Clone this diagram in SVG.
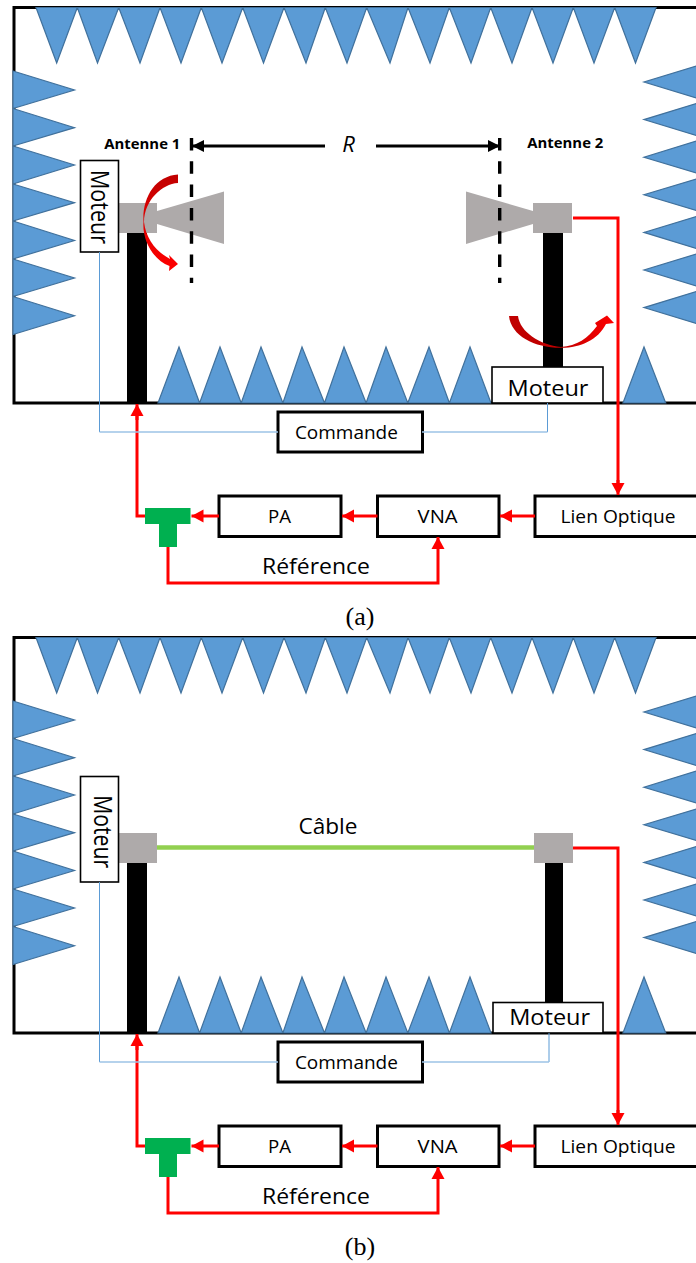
<svg xmlns="http://www.w3.org/2000/svg" width="696" height="1263" viewBox="0 0 696 1263">
<style>
.abs{fill:#5b9bd5;stroke:#41719c;stroke-width:1.2;stroke-linejoin:miter}
.frame{fill:none;stroke:#000;stroke-width:3}
.box{fill:#fff;stroke:#000;stroke-width:3}
.mot{fill:#fff;stroke:#000;stroke-width:1.6}
.gray{fill:#aeaaaa}
.pole{fill:#000}
.tee{fill:#00b050}
.red{fill:none;stroke:#f00;stroke-width:3;marker-end:url(#rh)}
.redp{fill:none;stroke:#f00;stroke-width:3}
.ctl{fill:none;stroke:#5b9bd5;stroke-width:1}
.ctlh{fill:none;stroke:#9dc3e6;stroke-width:1.3}
.dim{fill:none;stroke:#000;stroke-width:3;marker-end:url(#bh)}
.dash{fill:none;stroke:#000;stroke-width:3.4;stroke-dasharray:12.5 10.8}
text{font-family:"Open Sans","Noto Sans",sans-serif;fill:#000}
.t18{font-size:19px;text-anchor:middle}
.t20{font-size:22px;text-anchor:middle}
.tm{font-size:21px;text-anchor:middle}
.tv{font-size:25px;text-anchor:middle}
.ant{font-size:13.5px;font-weight:700}
.cap{font-family:"Liberation Serif",serif;font-size:26px;text-anchor:middle}
</style>
<defs>
<marker id="rh" markerUnits="userSpaceOnUse" markerWidth="14" markerHeight="14" refX="12" refY="7" orient="auto"><path d="M0 .5L12 7L0 13.5Z" fill="#f00"/></marker>
<marker id="bh" markerUnits="userSpaceOnUse" markerWidth="14" markerHeight="14" refX="12" refY="7" orient="auto"><path d="M0 1L12 7L0 13Z" fill="#000"/></marker>
<linearGradient id="gv" x1="0" y1="0" x2="0" y2="1"><stop offset="0" stop-color="#c00000"/><stop offset=".5" stop-color="#e00000"/><stop offset="1" stop-color="#f00"/></linearGradient>
<linearGradient id="gh" x1="0" y1="0" x2="1" y2="0"><stop offset="0" stop-color="#c00000"/><stop offset=".5" stop-color="#c00000"/><stop offset="1" stop-color="#f00"/></linearGradient>
<g id="chamber">
<path class="frame" d="M696 7.500H14V403H696"/>
<path class="abs" d="M36 7.500L56.700 63L77.300 7.500ZM77.300 7.500L97.500 63L118.700 7.500ZM118.700 7.500L140 63L160 7.500ZM160 7.500L181 63L201.300 7.500ZM201.300 7.500L222 63L242.700 7.500ZM242.700 7.500L263.500 63L284 7.500ZM284 7.500L306 63L325.300 7.500ZM325.300 7.500L347 63L366.700 7.500ZM366.700 7.500L390 63L408 7.500ZM408 7.500L430 63L449.300 7.500ZM449.300 7.500L471 63L490.700 7.500ZM490.700 7.500L512 63L532 7.500ZM532 7.500L553 63L573.300 7.500ZM573.300 7.500L594 63L614.700 7.500ZM614.700 7.500L635.500 63L656 7.500Z"/>
<path class="abs" d="M13 71L74.500 90L13 108.500ZM13 108.500L74.500 127.700L13 146ZM13 146L74.500 165L13 184ZM13 184L74.500 202.700L13 221ZM13 221L74.500 240.500L13 259ZM13 259L74.500 278L13 296.500ZM13 296.500L74.500 315.700L13 334.500Z"/>
<path class="abs" d="M698 65.500L644 82L698 98.500ZM698 103L644 119.600L698 136ZM698 140.500L644 157.200L698 173.500ZM698 178.500L644 194.800L698 211ZM698 216L644 232.400L698 249ZM698 253.500L644 270L698 286.500ZM698 291L644 307.600L698 324Z"/>
<path class="abs" d="M158 403L179 347L199.600 403ZM199.600 403L220 347L241.200 403ZM241.200 403L261 347L282.900 403ZM282.900 403L302 347L324.500 403ZM324.500 403L344 347L366.100 403ZM366.100 403L386 347L407.800 403ZM407.800 403L429 347L449.400 403ZM449.400 403L470 347L491 403Z"/>
<path class="abs" d="M623 403L644 347L665.700 403Z"/>
</g>
<g id="bench">
<rect class="box" x="278" y="412" width="144.500" height="40"/>
<text class="t18" x="346.400" y="439" textLength="103" lengthAdjust="spacingAndGlyphs">Commande</text>
<path class="tee" d="M145 508H190.500V524H177V547H159V524H145Z"/>
<rect class="box" x="219" y="496" width="122" height="40.500"/>
<text class="t18" x="279.600" y="522.500" textLength="23" lengthAdjust="spacingAndGlyphs">PA</text>
<rect class="box" x="377.500" y="496" width="121.500" height="40.500"/>
<text class="t18" x="437.600" y="522.500" textLength="40" lengthAdjust="spacingAndGlyphs">VNA</text>
<rect class="box" x="535" y="496" width="170" height="40.500"/>
<text class="t18" x="618" y="522.500" textLength="115" lengthAdjust="spacingAndGlyphs">Lien Optique</text>
<text class="t20" x="316" y="574" textLength="108" lengthAdjust="spacingAndGlyphs">Référence</text>
<path class="redp" d="M145 516H137V416"/>
<path class="red" d="M137 420V404"/>
<path class="red" d="M219 516H191.500"/>
<path class="red" d="M377.500 516H342"/>
<path class="red" d="M535 516H500"/>
<path class="red" d="M168 547V583H438V537"/>
</g>
</defs>

<g id="panel-a-chamber"><use href="#chamber"/></g>
<g id="panel-a-bench"><use href="#bench"/></g>

<g id="a-antenna1">
<rect class="pole" x="127" y="233" width="20" height="170"/>
<rect class="gray" x="119" y="203" width="38" height="30"/>
<path class="gray" d="M157 211L224 191.500V244L157 224Z"/>
</g>
<g id="a-moteur1">
<rect class="mot" x="80.500" y="160.500" width="38" height="91.500"/>
<text class="tv" transform="translate(91 207) rotate(90)" textLength="74" lengthAdjust="spacingAndGlyphs">Moteur</text>
</g>
<g id="a-antenna2">
<rect class="pole" x="543" y="233" width="20" height="134"/>
<rect class="gray" x="533" y="203" width="39" height="30"/>
<path class="gray" d="M533 211L466 191.500V244L533 224Z"/>
</g>
<g id="a-moteur2">
<rect class="mot" x="492" y="367" width="111" height="36"/>
<text class="tm" x="548" y="396" textLength="81" lengthAdjust="spacingAndGlyphs">Moteur</text>
</g>
<g id="a-labels">
<text class="ant" x="104.300" y="149" textLength="76" lengthAdjust="spacingAndGlyphs">Antenne 1</text>
<text class="ant" x="527.300" y="148" textLength="76" lengthAdjust="spacingAndGlyphs">Antenne 2</text>
<text x="348.500" y="152" font-size="22" font-style="italic" text-anchor="middle">R</text>
<text class="cap" x="360" y="625">(a)</text>
</g>
<g id="a-connectors">
<path class="dash" d="M191.500 138V283"/>
<path class="dash" d="M499.700 138V283"/>
<path class="dim" d="M325 146H192"/>
<path class="dim" d="M376 146H500"/>
<path class="ctl" d="M99.500 252V432M547.500 403V432"/>
<path class="ctlh" d="M99.500 432H278M422 432H547.500"/>
<path class="redp" d="M573 218H618V485"/>
<path class="red" d="M618 480V495"/>
<path d="M178 174.500V183C162 184 144.500 200 144 222C146 238 155 251 170 259L169 255L178 264L169 271L169.500 266C153 260 142 240 143.500 222C142 198 155 176 178 174.500Z" fill="url(#gv)"/>
<path d="M509 316H518C520 332 540 345 561 347C577 346 588 338 597 326L595 323L607 315.500L614 323L606 324C598 340 580 348 561 347.800C535 348 511 336 509 316Z" fill="url(#gh)"/>
</g>

<g id="panel-b-chamber"><use href="#chamber" y="630"/></g>
<g id="panel-b-bench"><use href="#bench" y="630"/></g>

<g id="b-antenna1">
<rect class="pole" x="127" y="863" width="20" height="170"/>
<rect class="gray" x="119" y="833" width="38" height="30"/>
</g>
<g id="b-moteur1">
<rect class="mot" x="80.500" y="776.500" width="38" height="105.500"/>
<text class="tv" transform="translate(94 831.700) rotate(90)" textLength="73" lengthAdjust="spacingAndGlyphs">Moteur</text>
</g>
<g id="b-antenna2">
<rect class="pole" x="545" y="863" width="18" height="140"/>
<rect class="gray" x="534" y="833" width="39" height="30"/>
</g>
<g id="b-moteur2">
<rect class="mot" x="493" y="1002.500" width="110" height="30.500"/>
<text class="tm" x="549.700" y="1025" textLength="81" lengthAdjust="spacingAndGlyphs">Moteur</text>
</g>
<g id="b-labels">
<text class="t20" x="328" y="834" textLength="59" lengthAdjust="spacingAndGlyphs">Câble</text>
<text class="cap" x="360" y="1255">(b)</text>
</g>
<g id="b-connectors">
<path d="M157 847.500H534" fill="none" stroke="#92d050" stroke-width="4.500"/>
<path class="ctl" d="M99.500 882V1062M549 1033V1062"/>
<path class="ctlh" d="M99.500 1062H278M422 1062H549"/>
<path class="redp" d="M573 848H618V1115"/>
<path class="red" d="M618 1110V1125"/>
</g>
</svg>
